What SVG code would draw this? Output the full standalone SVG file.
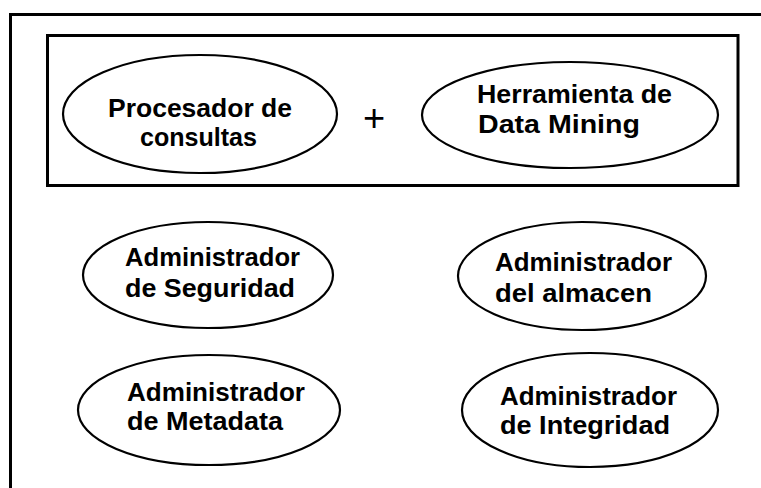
<svg xmlns="http://www.w3.org/2000/svg" width="761" height="488" viewBox="0 0 761 488">
<style>
.frame{fill:none;stroke:#000;stroke-width:3}
.node ellipse{fill:#fff;stroke:#000;stroke-width:2.2}
.node text, .plus{font-family:"Liberation Sans",Arial,sans-serif;font-weight:bold;font-size:25px;fill:#000;text-anchor:start}
.plus{font-weight:normal;font-size:38px;text-anchor:middle}
</style>
<rect width="761" height="488" fill="#fff"/>
<rect class="frame" x="10.5" y="14.5" width="770" height="490"/>
<g id="grupo-consulta">
<rect class="frame" x="47.5" y="35.5" width="690.5" height="150"/>
<g id="procesador" class="node">
<ellipse cx="200" cy="114" rx="137" ry="59"/>
<text x="108" y="117" textLength="184" lengthAdjust="spacingAndGlyphs">Procesador de</text>
<text x="140" y="146" textLength="117" lengthAdjust="spacingAndGlyphs">consultas</text>
</g>
<text class="plus" x="374" y="131">+</text>
<g id="herramienta" class="node">
<ellipse cx="570" cy="115" rx="148" ry="53"/>
<text x="477" y="103" textLength="195" lengthAdjust="spacingAndGlyphs">Herramienta de</text>
<text x="478" y="133" textLength="162" lengthAdjust="spacingAndGlyphs">Data Mining</text>
</g>
</g>
<g id="seguridad" class="node">
<ellipse cx="208" cy="275" rx="125" ry="53"/>
<text x="125" y="266" textLength="175" lengthAdjust="spacingAndGlyphs">Administrador</text>
<text x="125" y="297" textLength="170" lengthAdjust="spacingAndGlyphs">de Seguridad</text>
</g>
<g id="almacen" class="node">
<ellipse cx="582" cy="276" rx="124" ry="54"/>
<text x="495" y="271" textLength="177" lengthAdjust="spacingAndGlyphs">Administrador</text>
<text x="495" y="302" textLength="157" lengthAdjust="spacingAndGlyphs">del almacen</text>
</g>
<g id="metadata" class="node">
<ellipse cx="209" cy="410" rx="131" ry="55"/>
<text x="127" y="401" textLength="178" lengthAdjust="spacingAndGlyphs">Administrador</text>
<text x="127" y="430" textLength="156" lengthAdjust="spacingAndGlyphs">de Metadata</text>
</g>
<g id="integridad" class="node">
<ellipse cx="590" cy="410" rx="128" ry="57"/>
<text x="500" y="405" textLength="177" lengthAdjust="spacingAndGlyphs">Administrador</text>
<text x="500" y="434" textLength="170" lengthAdjust="spacingAndGlyphs">de Integridad</text>
</g>
<g id="connectors"/>
</svg>
